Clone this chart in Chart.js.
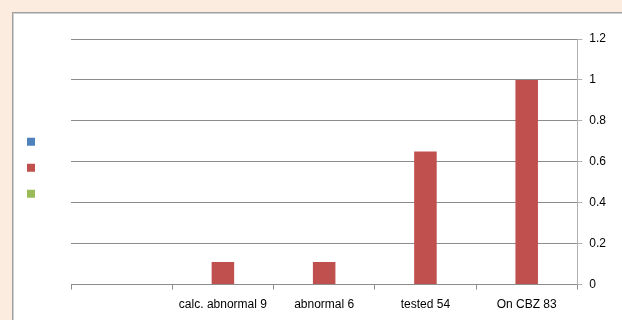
<!DOCTYPE html>
<html>
<head>
<meta charset="utf-8">
<script src="https://cdn.jsdelivr.net/npm/chart.js@4"></script>
<style>
  html, body { margin: 0; padding: 0; background: #fcece0; }
  #panel {
    position: absolute; left: 12px; top: 12px;
    width: 610px; height: 308px;
    background: #fff;
    border-left: 1px solid #a0a0a0; border-top: 1px solid #a0a0a0;
    box-shadow: inset 1px 1px 0 #cfcfcf;
    box-sizing: border-box;
  }
  #chart { display: block; }
</style>
</head>
<body>
<div id="panel"><canvas id="chart" width="609" height="307"></canvas></div>
<script>
const categories = ['', 'calc. abnormal 9', 'abnormal 6', 'tested 54', 'On CBZ 83'];
const series1 = [0, 0, 0, 0, 0];
const series2 = [0, 0.11, 0.11, 0.65, 1];
const series3 = [0, 0, 0, 0, 0];
const yTickLabels = ['0', '0.2', '0.4', '0.6', '0.8', '1', '1.2'];

const gridGrey = '#8c8c8c';
const axisGrey = '#b0b0b0';
const labelFont = { family: "'Liberation Sans', Arial, sans-serif", size: 12 };

const ctx = document.getElementById('chart').getContext('2d');
new Chart(ctx, {
  type: 'bar',
  data: {
    labels: categories,
    datasets: [
      { label: '', data: series1, backgroundColor: '#4f81bd' },
      { label: '', data: series2, backgroundColor: '#c0504d' },
      { label: '', data: series3, backgroundColor: '#9bbb59' }
    ]
  },
  options: {
    responsive: false,
    animation: false,
    layout: { padding: { left: 0, top: 26, right: 9, bottom: 0 } },
    datasets: {
      bar: { categoryPercentage: 0.667, barPercentage: 1, borderWidth: 0 }
    },
    plugins: {
      legend: {
        position: 'left',
        fullSize: false,
        // empty title only nudges the swatches down a little
        title: { display: true, text: '', font: { size: 10 }, padding: 0 },
        labels: { boxWidth: 8, boxHeight: 8, padding: 14, font: { size: 12 } }
      },
      tooltip: { enabled: false }
    },
    scales: {
      x: {
        offset: true,
        grid: { offset: true, drawOnChartArea: false, drawTicks: true, tickLength: 5, color: gridGrey },
        border: { color: gridGrey },
        ticks: { color: '#000', font: labelFont, maxRotation: 0, autoSkip: false, padding: 8 }
      },
      y: {
        position: 'right',
        min: 0,
        max: 1.2,
        grid: { color: gridGrey, tickColor: axisGrey, tickLength: 5 },
        border: { color: axisGrey },
        ticks: {
          stepSize: 0.2,
          color: '#000',
          font: labelFont,
          padding: 7,
          callback: (v, i) => yTickLabels[i]
        }
      },
      spacer: {
        type: 'linear',
        position: 'left',
        display: true,
        grid: { display: false },
        border: { display: false },
        ticks: { display: false },
        afterFit: (scale) => { scale.width = 20; }
      }
    }
  }
});
</script>
</body>
</html>
